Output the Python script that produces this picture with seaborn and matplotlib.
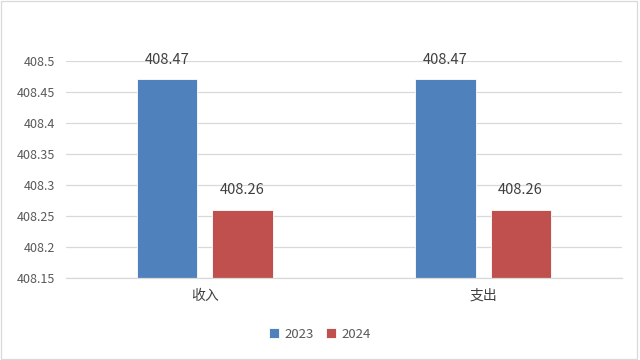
import seaborn as sns
import numpy as np
import matplotlib.pyplot as plt
import pandas as pd
from matplotlib.patches import Rectangle
from matplotlib.ticker import FixedLocator

# Data
categories = ['收入', '支出']
years = ['2023', '2024']
values_2023 = [408.47, 408.47]
values_2024 = [408.26, 408.26]
y_ticks = [408.15, 408.2, 408.25, 408.3, 408.35, 408.4, 408.45, 408.5]

sns.set_theme(style='white')
plt.rcParams['font.family'] = ['Noto Sans CJK SC', 'DejaVu Sans']

# Set up data
data = pd.DataFrame({
    'category': categories * 2,
    'year': [years[0]] * len(categories) + [years[1]] * len(categories),
    'value': values_2023 + values_2024,
})

fig = plt.figure(figsize=(6.4, 3.6), dpi=100)
ax = fig.add_axes([0.103, 0.228, 0.869, 0.603])

g = sns.barplot(data=data, x='category', y='value', hue='year', order=categories,
                hue_order=years, palette=['#4F81BD', '#C0504D'], saturation=1,
                width=0.54, gap=0.2, edgecolor='white', linewidth=0.6, ax=ax)

ax.set_ylim(y_ticks[0], y_ticks[-1])
ax.set_xlim(-0.5, len(categories) - 0.5)
ax.yaxis.set_major_locator(FixedLocator(y_ticks))
ax.set_yticklabels([f'{t:g}' for t in y_ticks])
ax.grid(axis='y', color='#D9D9D9', linewidth=0.9)
ax.set_axisbelow(True)

# Spines
for side in ['top', 'left', 'right']:
    ax.spines[side].set_visible(False)
ax.spines['bottom'].set_color('#D9D9D9')
ax.spines['bottom'].set_linewidth(0.9)

ax.tick_params(axis='y', length=0, labelsize=9, labelcolor='#595959', pad=8)
ax.tick_params(axis='x', length=0, labelsize=10, labelcolor='#404040', pad=8)
ax.set_xticks(np.arange(-0.5, len(categories)), minor=True)
ax.tick_params(axis='x', which='minor', length=5, color='#D9D9D9', width=0.9)
ax.set_xlabel('')
ax.set_ylabel('')

# Data labels
for container in ax.containers:
    ax.bar_label(container, fmt='%.2f', padding=9, fontsize=10.5, color='#404040')

# Legend
handles, labels = ax.get_legend_handles_labels()
ax.legend_.remove()
fig.legend(handles, labels, loc='center', bbox_to_anchor=(0.5, 0.072), ncol=2,
           frameon=False, fontsize=9.5, handlelength=0.8, handleheight=0.8,
           handletextpad=0.4, columnspacing=0.9, labelcolor='#595959')

# Chart border
fig.patches.append(Rectangle((0.002, 0.004), 0.994, 0.992, transform=fig.transFigure,
                             fill=False, edgecolor='#D9D9D9', linewidth=0.9))

fig.savefig('out.png', dpi=100)
